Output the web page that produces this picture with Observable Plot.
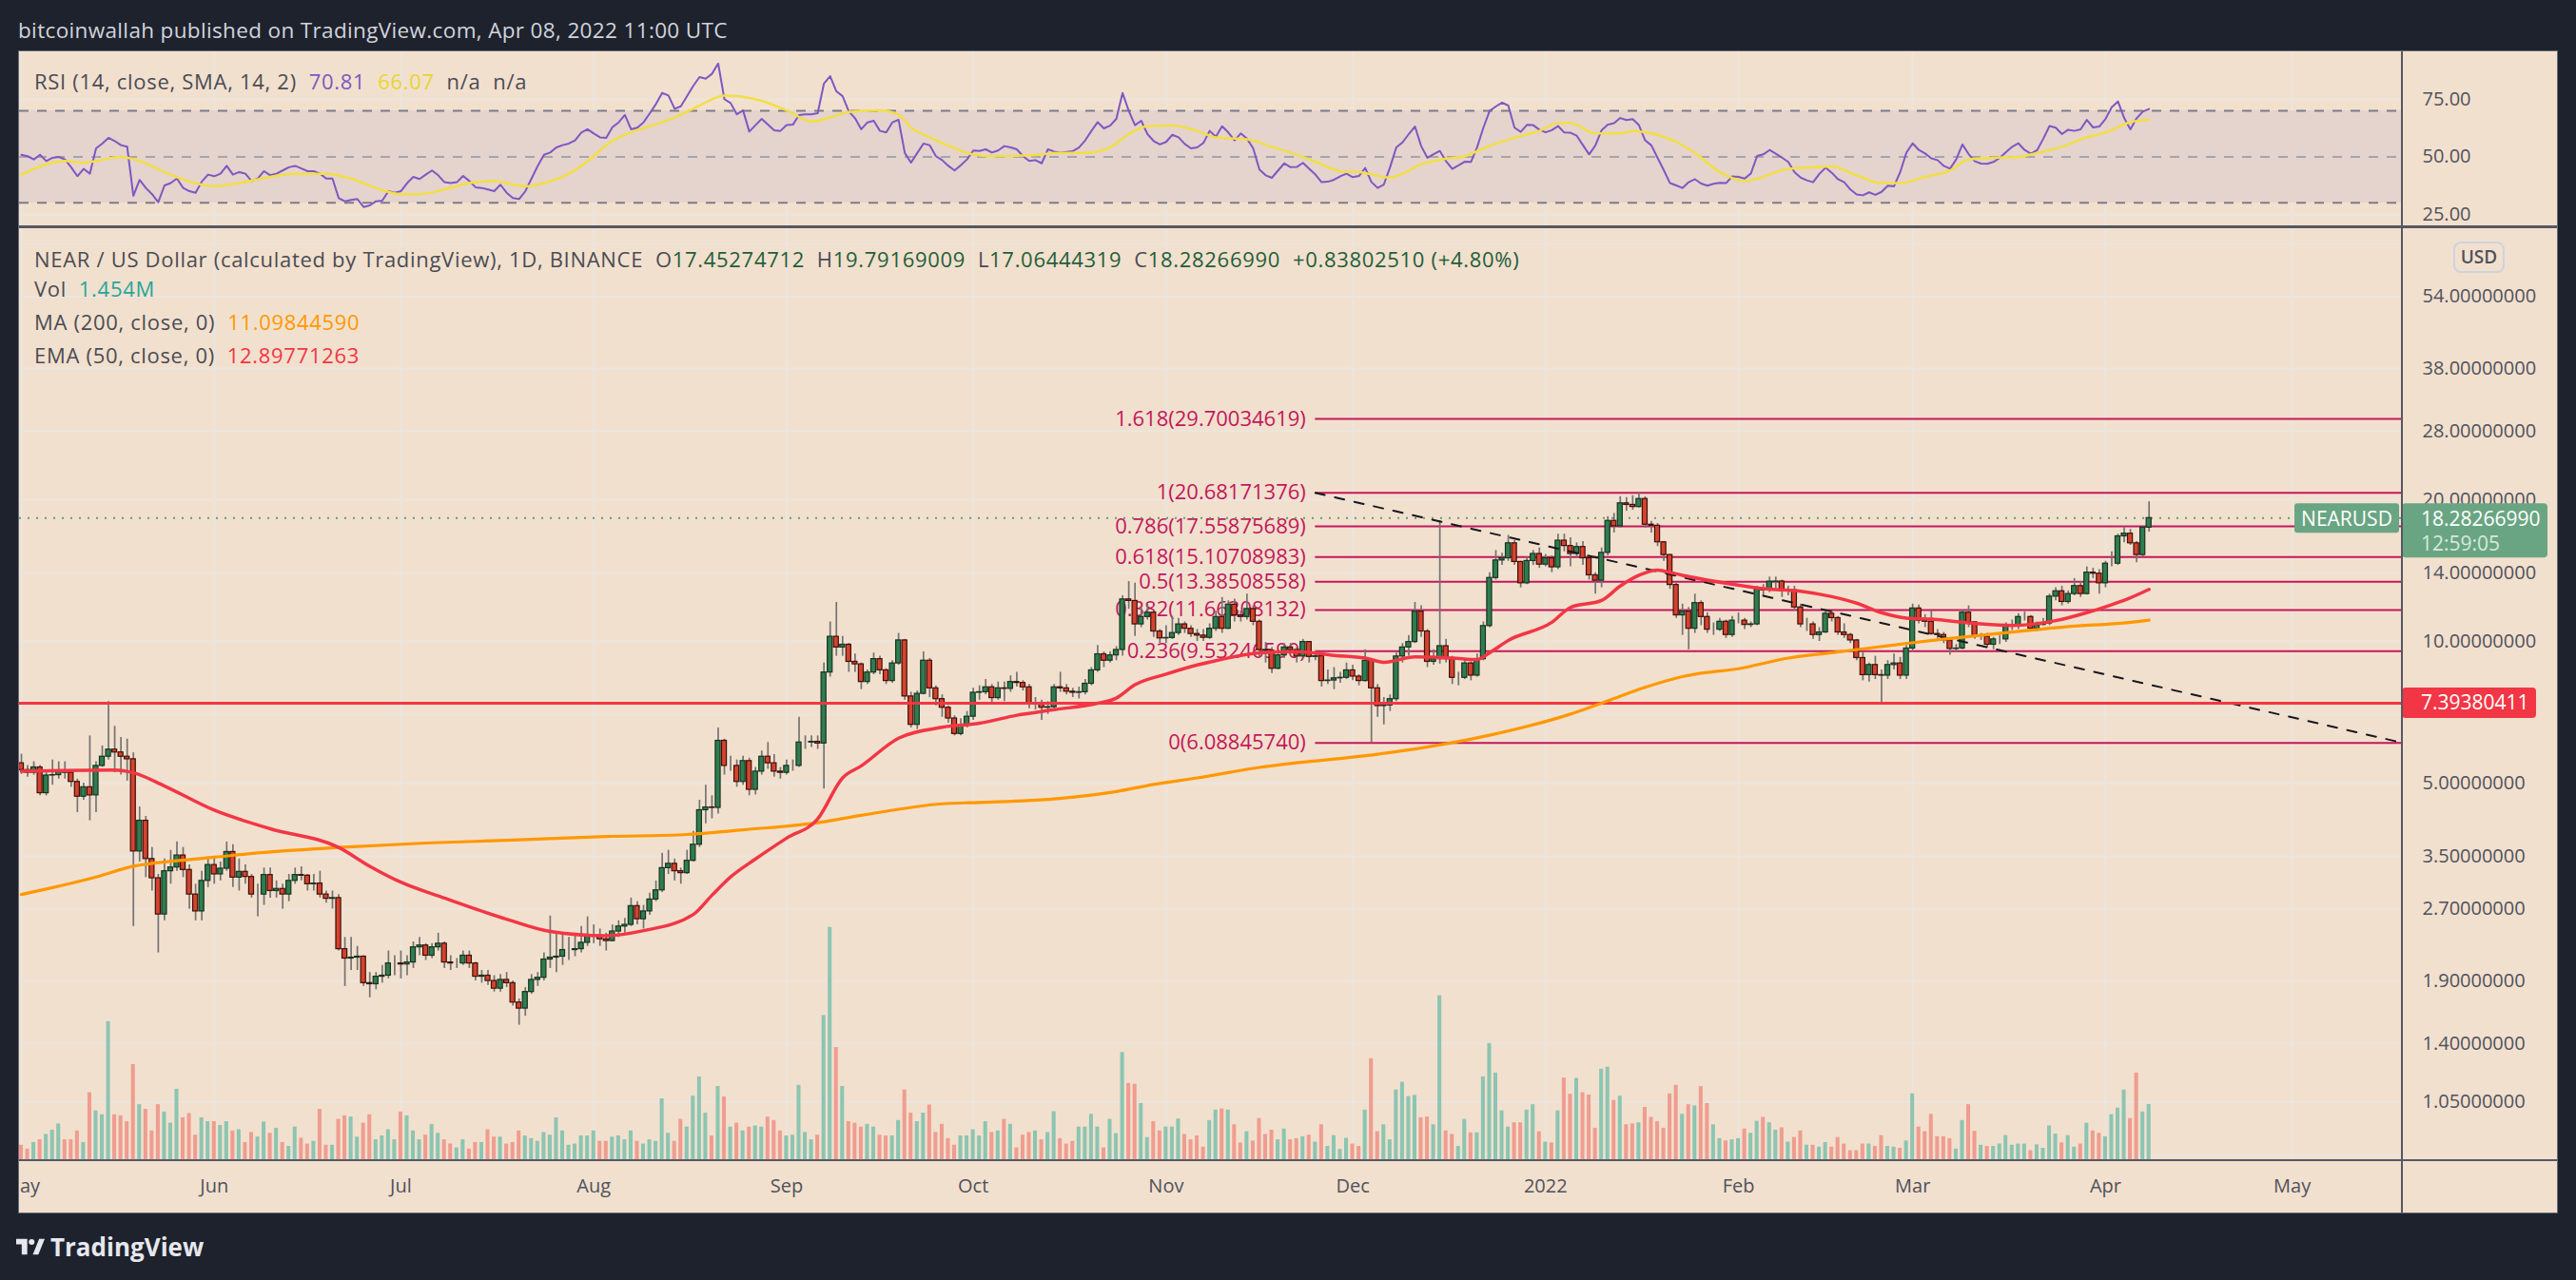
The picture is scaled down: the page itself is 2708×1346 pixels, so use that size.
<!DOCTYPE html>
<html><head><meta charset="utf-8">
<script src="https://cdn.jsdelivr.net/npm/d3@7"></script>
<script src="https://cdn.jsdelivr.net/npm/@observablehq/plot@0.6"></script>
<style>
html,body{margin:0;padding:0;}
body{background:#1e222d;width:2708px;height:1346px;overflow:hidden;position:relative;font-family:"Open Sans","Liberation Sans",Arial,sans-serif;}
.abs{position:absolute;white-space:pre;}
#panel{position:absolute;left:20px;top:54px;width:2668px;height:1221px;background:#f2e0ce;overflow:hidden;}
#panelBorder{position:absolute;left:19px;top:53px;width:2668px;height:1221px;border:1px solid #6a6d78;pointer-events:none;}
.layer{position:absolute;left:0;}
.leg{position:absolute;white-space:pre;font-size:22px;letter-spacing:0.7px;line-height:30px;color:#4a4c54;}
.sep{position:absolute;background:#555862;}
.g{color:#1f5e3a;}
</style></head>
<body>
<div class="abs" id="header" style="left:19px;top:17px;font-size:22.5px;letter-spacing:0.35px;line-height:30px;color:#d1d4dc;">bitcoinwallah published on TradingView.com, Apr 08, 2022 11:00 UTC</div>
<div id="panel">
  <div class="layer" id="rsiLayer" style="top:0;"></div>
  <div class="layer" id="priceLayer" style="top:185px;"></div>
  <div class="layer" id="volLayer" style="top:185px;"></div>
  <div class="sep" style="left:0;top:183px;width:2668px;height:3px;"></div>
  <div class="sep" style="left:2504px;top:0;width:2px;height:1221px;"></div>
  <div class="sep" style="left:0;top:1165px;width:2668px;height:2px;"></div>
  <div class="leg" style="left:16px;top:16px;">RSI (14, close, SMA, 14, 2)  <span style="color:#7e57c2">70.81</span>  <span style="color:#e8d62e">66.07</span>  n/a  n/a</div>
  <div class="leg" style="left:16px;top:203px;">NEAR / US Dollar (calculated by TradingView), 1D, BINANCE  O<span class="g">17.45274712</span>  H<span class="g">19.79169009</span>  L<span class="g">17.06444319</span>  C<span class="g">18.28266990</span>  <span class="g">+0.83802510 (+4.80%)</span></div>
  <div class="leg" style="left:16px;top:234px;">Vol  <span style="color:#26a69a">1.454M</span></div>
  <div class="leg" style="left:16px;top:269px;">MA (200, close, 0)  <span style="color:#ff9800">11.09844590</span></div>
  <div class="leg" style="left:16px;top:304px;">EMA (50, close, 0)  <span style="color:#f23645">12.89771263</span></div>
  <div class="abs" style="left:2559px;top:200px;width:50px;height:29px;border:2px solid #cdd3de;border-radius:8px;font-size:19px;line-height:29px;text-align:center;color:#4f525c;font-weight:600;">USD</div>
</div>
<div id="panelBorder"></div>
<div class="abs" id="footer" style="left:17px;top:1296px;height:30px;display:flex;align-items:center;color:#e6e8ee;font-size:26px;font-weight:700;">
<svg width="30" height="18" viewBox="0 0 36 20" style="margin-right:6px"><path d="M0 0H14V20H7V7H0Z" fill="#e6e8ee"/><circle cx="19.5" cy="4" r="3.6" fill="#e6e8ee"/><path d="M21 20L29 0H36L28 20Z" fill="#e6e8ee"/></svg>TradingView</div>
<script>
// ---------------- DATA ----------------
const startDay = "2021-05-01";          // first daily candle
const firstOpen = 5.51;                  // open of the first candle
// daily closes, May 2021 -> Apr 8 2022
const closes = [
// May 2021
5.33,5.26,5.40,4.76,5.19,5.20,5.29,5.26,5.03,4.68,4.90,4.71,5.44,5.69,5.89,5.81,5.69,5.62,3.58,4.16,3.45,3.14,2.63,3.25,3.31,3.51,3.27,2.90,2.67,3.10,3.35,
// Jun
3.20,3.29,3.57,3.15,3.24,3.16,2.90,2.90,3.19,2.95,2.98,2.90,3.10,3.19,3.18,3.05,3.06,2.90,2.84,2.85,2.22,2.12,2.13,2.14,1.88,1.87,1.94,1.95,2.07,2.07,
// Jul
2.06,2.08,2.24,2.26,2.15,2.24,2.28,2.08,2.07,2.07,2.15,2.07,1.94,1.95,1.90,1.83,1.91,1.88,1.71,1.66,1.80,1.91,1.93,2.11,2.13,2.14,2.21,2.21,2.22,2.29,2.37,
// Aug
2.37,2.33,2.31,2.42,2.48,2.50,2.74,2.57,2.67,2.83,2.96,3.30,3.37,3.25,3.22,3.42,3.70,4.38,4.44,4.43,6.15,5.44,5.44,5.03,5.57,4.84,5.29,5.69,5.51,5.29,5.26,
// Sep
5.44,5.44,6.10,6.10,6.12,6.07,8.59,10.23,9.71,9.84,9.05,8.94,8.20,8.59,9.17,8.68,8.24,8.98,10.05,7.64,6.65,7.74,9.10,7.95,7.54,7.23,6.86,6.36,6.62,6.92,
// Oct
7.78,7.80,7.99,7.58,7.95,7.93,8.20,8.16,7.99,7.35,7.38,7.23,7.25,7.99,7.95,7.82,7.78,7.80,8.13,8.68,9.39,9.10,9.34,9.59,12.28,12.19,10.87,11.27,11.51,10.50,10.15,
// Nov
10.17,10.42,10.87,10.64,10.37,10.29,10.18,10.64,11.27,10.64,11.97,11.36,11.27,11.72,11.01,9.59,9.55,8.75,9.34,9.71,9.59,9.29,9.97,9.27,9.30,8.24,8.26,8.35,8.37,8.68,
// Dec
8.42,8.24,9.10,7.95,7.29,7.31,7.54,9.29,9.71,9.97,11.57,10.50,9.05,9.17,9.77,9.17,8.37,8.37,8.98,8.46,9.17,10.78,13.64,14.86,15.02,16.16,14.75,13.29,14.82,15.34,14.56,
// Jan 2022
15.02,14.37,16.37,15.95,15.34,15.87,15.02,13.82,13.46,15.42,18.03,17.57,19.65,19.50,19.30,20.07,17.70,17.61,16.24,15.26,13.18,11.36,11.57,10.64,12.06,11.27,10.59,10.59,11.01,10.32,11.07,
// Feb
11.07,10.84,10.87,12.94,12.84,13.39,13.40,12.78,12.84,11.81,10.87,10.87,10.32,10.45,11.45,11.21,10.45,10.32,10.05,9.22,8.48,8.91,8.48,8.46,8.91,8.98,8.46,9.66,
// Mar
11.75,11.07,11.01,10.37,10.32,10.05,9.64,9.66,11.51,10.98,10.23,10.23,9.84,10.10,10.10,10.78,10.78,11.27,11.27,10.64,10.84,10.92,12.45,12.78,12.13,12.61,13.11,12.61,14.00,13.93,13.29,
// Apr
14.63,14.63,16.72,16.94,16.16,15.26,17.45,18.28266990
];
const highs = [
5.76,5.45,5.55,5.45,5.30,5.60,5.55,5.55,5.30,5.10,5.00,6.30,5.55,6.00,7.45,6.60,6.25,6.20,5.80,4.45,4.25,3.65,3.20,3.45,3.60,3.75,3.65,3.35,3.05,3.25,3.45,
3.45,3.40,3.75,3.70,3.45,3.35,3.20,3.05,3.30,3.30,3.10,3.05,3.20,3.30,3.32,3.20,3.20,3.25,2.95,2.95,2.90,2.35,2.35,2.25,2.15,1.98,1.98,2.05,2.20,2.15,
2.20,2.15,2.30,2.35,2.28,2.28,2.40,2.30,2.15,2.12,2.20,2.20,2.08,2.00,2.00,1.95,1.96,1.98,1.90,1.74,1.84,1.96,1.98,2.18,2.61,2.40,2.38,2.35,2.40,2.48,2.60,
2.50,2.45,2.40,2.50,2.55,2.58,2.85,2.80,2.75,2.92,3.10,3.55,3.60,3.45,3.30,3.60,3.95,4.60,4.95,4.70,6.55,6.20,5.70,5.60,5.70,5.65,5.40,5.85,6.10,5.75,5.40,
5.60,5.60,6.90,6.30,6.30,6.30,9.00,11.00,12.10,10.25,9.90,9.40,9.00,8.70,9.45,9.30,8.75,9.10,10.40,10.10,7.80,7.85,9.50,9.20,8.05,7.70,7.30,6.95,6.85,7.10,
7.95,8.05,8.30,8.10,8.20,8.20,8.45,8.60,8.25,8.10,7.60,7.50,7.45,8.10,8.60,8.10,7.95,8.00,8.30,8.80,9.80,9.50,9.50,9.75,12.50,13.40,13.30,11.80,12.00,11.60,10.60,
10.80,11.30,11.20,11.00,10.80,10.60,10.60,10.90,11.60,12.40,12.20,12.30,11.60,12.60,11.90,11.10,9.95,9.70,9.50,9.90,9.90,9.70,10.10,10.00,9.55,9.40,8.70,8.80,8.60,9.00,
8.90,8.50,9.60,9.20,8.10,7.60,7.70,9.45,9.90,10.30,12.10,11.90,10.60,9.60,18.03,10.10,9.30,8.60,9.20,9.05,9.40,11.00,14.00,15.60,15.40,16.80,16.40,14.80,15.10,15.60,15.80,
15.30,15.20,16.90,16.90,16.60,16.20,16.30,15.20,14.00,15.80,18.40,18.70,20.30,20.20,20.40,20.68,20.30,18.00,17.80,16.30,15.30,13.30,12.00,11.80,12.60,12.20,11.50,10.95,11.20,11.10,11.30,
11.50,11.20,11.00,13.10,13.20,13.70,13.70,13.50,13.10,13.10,12.00,11.20,11.00,10.70,11.65,11.60,11.30,10.90,10.40,10.10,9.50,9.00,9.30,8.70,9.10,9.40,9.25,9.80,
12.00,11.95,11.40,11.60,10.60,10.45,10.10,9.85,11.65,11.90,11.00,10.40,10.40,10.20,10.30,10.95,11.10,11.45,11.55,11.35,11.00,11.20,12.60,13.00,13.10,12.80,13.60,13.40,14.40,14.30,14.20,
14.80,15.50,16.90,17.50,17.30,16.30,17.50,19.79169009
];
const lows = [
5.22,5.15,5.20,4.70,4.70,4.95,5.10,5.10,4.90,4.33,4.60,4.16,4.33,5.40,5.60,5.26,5.20,5.05,2.48,3.40,3.15,2.95,2.18,2.55,3.05,3.25,3.15,2.70,2.55,2.55,3.00,
3.05,3.10,3.25,3.00,2.95,3.05,2.85,2.60,2.75,2.85,2.85,2.70,2.80,3.05,3.10,2.95,2.95,2.85,2.78,2.70,2.20,1.85,2.00,2.00,1.85,1.75,1.82,1.88,1.92,1.95,
1.92,1.95,2.02,2.15,2.10,2.12,2.20,2.02,2.00,2.02,2.05,2.02,1.90,1.88,1.86,1.80,1.80,1.84,1.68,1.53,1.60,1.78,1.85,1.90,2.02,1.98,2.05,2.10,2.14,2.18,2.25,
2.28,2.25,2.20,2.30,2.35,2.40,2.48,2.50,2.45,2.62,2.80,2.93,3.20,3.10,3.05,3.20,3.40,3.65,4.10,4.20,4.30,5.20,5.30,4.90,4.95,4.70,4.72,5.20,5.35,5.15,5.10,
5.20,5.30,5.40,5.90,5.95,5.90,4.86,8.40,9.30,9.30,8.60,8.60,7.90,8.10,8.50,8.50,8.10,8.15,8.90,7.50,6.55,6.50,7.70,7.60,7.30,6.90,6.70,6.30,6.30,6.55,
6.80,7.50,7.70,7.40,7.50,7.45,7.80,8.00,7.85,7.20,7.15,6.80,7.00,7.20,7.80,7.70,7.60,7.55,7.70,8.05,8.60,8.80,9.00,9.10,9.30,11.70,10.25,10.70,11.10,10.20,9.90,
9.90,10.10,10.30,10.40,10.20,10.00,10.00,10.10,10.50,10.40,10.60,11.00,11.00,11.10,10.80,9.20,9.00,8.55,8.70,9.20,9.40,9.00,9.20,9.00,9.10,8.00,8.10,7.90,8.15,8.30,
8.25,8.05,8.20,6.08845740,6.90,6.65,7.10,7.45,9.00,9.30,9.90,10.20,8.80,8.90,8.95,9.00,8.10,8.05,8.30,8.25,8.40,9.10,10.70,13.50,14.50,14.80,14.50,13.00,13.20,14.50,14.30,
14.40,14.00,14.20,15.50,14.40,15.00,14.50,13.50,12.60,13.00,15.20,17.00,17.40,18.90,19.00,19.20,17.40,17.00,15.90,14.80,12.90,11.20,10.30,9.60,10.40,10.80,10.40,10.30,10.50,10.15,10.20,
10.90,10.60,10.70,10.80,12.50,12.70,12.90,12.40,12.50,11.60,10.70,10.50,10.10,10.00,10.40,11.00,10.30,10.15,9.90,9.10,8.25,8.20,8.30,7.39380411,8.30,8.70,8.30,8.30,
9.50,10.90,10.70,10.30,10.10,9.90,9.35,9.50,9.60,10.70,10.10,10.05,9.70,9.60,9.85,9.95,10.55,10.60,11.05,10.50,10.50,10.80,10.80,12.20,11.90,12.00,12.50,12.40,12.55,13.60,12.60,
13.00,14.40,14.50,16.20,16.00,14.70,15.10,17.06444319
];
// daily volume, millions
const volumes = [
0.40,0.30,0.47,0.54,0.68,0.79,0.95,0.54,0.54,0.77,0.47,1.76,1.29,1.19,3.60,1.19,1.16,1.01,2.49,1.45,1.33,0.77,1.45,1.26,0.97,1.85,1.11,1.22,0.66,1.11,1.01,
1.01,0.91,1.01,0.77,0.80,0.47,0.73,0.61,1.00,0.71,0.84,0.47,0.37,0.87,0.58,0.43,0.50,1.33,0.40,0.40,1.07,1.16,1.13,0.61,0.97,1.19,0.54,0.64,0.80,0.54,
1.26,1.16,0.77,0.54,0.66,0.94,0.71,0.54,0.43,0.33,0.54,0.30,0.47,0.47,0.80,0.61,0.61,0.43,0.47,0.77,0.64,0.57,0.50,0.73,0.66,1.11,0.77,0.40,0.43,0.64,0.64,
0.77,0.50,0.50,0.61,0.64,0.54,0.77,0.50,0.43,0.54,0.50,1.60,0.71,0.50,1.07,0.87,1.67,2.17,1.23,0.64,1.92,1.65,0.87,0.97,0.77,0.87,0.90,0.87,1.13,1.04,0.77,
0.64,0.66,1.95,0.73,0.54,0.66,3.76,6.04,2.93,1.92,1.01,0.97,0.87,0.94,0.87,0.66,0.64,0.64,1.04,1.83,1.23,1.01,1.23,1.44,0.73,0.94,0.57,0.40,0.64,0.64,
0.80,0.64,1.01,0.73,0.77,1.07,0.94,0.33,0.66,0.73,0.77,0.54,0.73,1.27,0.57,0.43,0.50,0.87,0.87,1.20,0.87,0.33,1.07,0.70,2.80,2.00,1.98,1.48,0.60,1.01,0.77,
0.87,0.87,1.08,0.68,0.54,0.64,0.35,1.04,1.31,1.34,1.31,0.93,0.46,0.75,0.51,1.09,0.68,0.79,0.54,0.82,0.54,0.57,0.62,0.66,0.48,0.93,0.37,0.65,0.29,0.58,
0.43,0.37,1.31,2.64,0.75,0.93,0.54,1.83,2.03,1.66,1.69,1.11,1.13,0.93,4.27,0.77,0.68,0.37,1.07,0.72,0.72,2.17,3.03,2.27,1.29,0.87,0.98,0.98,1.31,1.45,0.75,
0.48,0.46,1.29,2.14,1.72,2.13,1.76,1.70,0.84,2.37,2.42,1.56,1.67,0.93,0.95,0.98,1.38,1.12,1.01,0.84,1.73,1.95,1.20,1.45,1.42,1.92,1.48,0.93,0.57,0.51,0.54,
0.57,0.82,0.71,1.02,1.12,0.98,0.79,0.85,0.48,0.60,0.77,0.40,0.40,0.35,0.47,0.35,0.60,0.43,0.26,0.26,0.43,0.43,0.37,0.65,0.37,0.35,0.32,0.51,
1.73,0.87,0.75,1.20,0.62,0.62,0.57,0.30,1.04,1.45,0.76,0.40,0.37,0.37,0.43,0.65,0.40,0.43,0.43,0.26,0.41,0.32,0.90,0.69,0.46,0.65,0.35,0.43,0.97,0.77,0.71,
0.62,1.19,1.36,1.83,1.09,2.27,1.26,1.454
];
// RSI(14), one value per candle
const rsiValues = [
50.9,50.3,48.9,50.9,48.2,49.6,50.0,48.9,45.5,41.6,44.8,42.7,53.7,55.8,58.3,56.9,55.1,54.4,33.1,40.0,
36.5,33.8,30.3,37.6,38.6,40.6,36.5,35.1,34.4,39.3,42.3,41.6,42.7,46.1,42.3,43.4,42.7,39.5,40.6,43.8,
42.0,42.7,44.1,45.5,46.1,45.0,43.8,43.8,42.7,40.6,40.6,32.1,30.7,31.3,31.7,28.2,28.9,30.7,31.0,35.1,
34.4,35.1,38.6,41.3,40.4,42.3,44.1,42.0,39.0,38.6,39.0,41.7,39.5,36.8,36.5,35.8,35.1,37.9,34.4,32.1,
31.7,35.1,40.6,46.1,50.9,51.9,54.1,55.1,55.8,57.2,60.6,62.0,60.2,58.5,58.3,62.9,65.0,68.2,62.0,62.7,
65.0,68.9,73.0,77.8,76.7,70.9,72.0,76.4,80.9,84.7,84.0,86.1,90.6,75.1,73.4,68.5,70.2,61.0,63.8,66.5,
64.0,61.6,61.3,63.8,64.0,68.2,68.5,68.5,69.0,81.9,85.1,78.5,76.4,69.8,66.8,62.0,65.0,65.7,61.3,60.6,
65.0,66.1,51.7,47.5,51.7,55.8,55.1,50.3,48.6,46.1,44.1,46.4,48.9,52.8,52.6,53.3,51.9,52.8,54.7,54.1,
53.3,50.3,48.2,48.6,47.2,53.3,52.3,51.9,52.2,52.5,54.1,57.2,61.3,65.1,62.4,63.6,66.5,77.8,70.0,63.8,
65.7,59.9,56.9,55.4,56.5,59.6,58.5,55.6,53.7,54.1,56.1,61.3,58.8,63.3,60.6,57.2,60.2,57.9,53.7,44.5,
42.0,40.9,44.1,47.2,45.5,45.6,47.4,44.8,42.3,39.0,39.2,40.1,41.6,42.7,41.2,41.7,45.2,39.1,36.5,38.0,
45.5,54.1,56.3,59.9,63.2,54.7,49.6,51.2,52.6,48.1,44.8,46.3,47.9,47.8,54.3,62.7,70.0,71.9,73.6,72.3,
62.7,60.9,63.9,63.8,61.8,60.7,61.6,63.4,60.6,60.5,59.2,55.1,51.1,55.0,61.6,64.0,64.7,66.9,66.0,66.4,
63.8,57.2,55.0,49.6,44.2,38.6,37.6,36.5,39.0,40.3,38.4,37.5,38.3,38.7,38.6,41.5,41.3,40.6,42.8,50.4,
51.1,53.0,51.4,49.7,47.8,43.4,41.0,39.8,39.0,42.6,45.3,43.1,40.3,39.0,35.8,33.7,33.3,34.6,33.5,34.8,
37.5,37.2,43.4,51.9,55.9,53.0,51.5,49.4,48.6,46.1,44.9,48.9,55.4,51.2,48.1,47.1,47.0,47.8,49.6,52.1,
54.4,55.9,53.0,51.4,52.9,57.9,63.4,62.7,59.9,61.8,61.3,62.0,66.1,62.8,63.2,66.5,71.6,74.1,66.9,62.0,
66.8,69.7,70.81
];
// RSI-based SMA (yellow), read at sampled candle numbers
const rsiSmaDay = [0,2,5,7,10,12,16,19,23,27,31,35,40,44,49,53,57,61,64,68,72,76,81,84,88,92,94,97,101,105,109,113,115,119,123,127,130,133,138,141,143,146,150,153,156,162,167,171,175,178,181,185,189,192,197,201,205,209,212,215,220,222,225,229,232,235,240,244,247,249,253,257,259,262,266,269,273,277,279,284,288,291,295,299,302,306,310,313,317,321,324,328,332,335,339,342];
const rsiSmaValue = [42.3,44.8,47.5,48.2,47.5,48.2,50.0,48.2,43.4,39.3,37.2,38.6,41.3,42.7,42.7,40.6,36.5,33.8,33.8,35.8,38.6,39.5,37.2,38.6,42.7,50.3,55.1,59.6,63.3,67.1,72.3,76.7,76.4,74.4,70.2,65.4,67.1,69.5,70.2,68.2,62.7,58.5,53.7,51.0,50.3,50.7,51.7,51.7,54.1,59.9,63.3,63.6,61.3,58.5,57.6,54.4,51.0,46.8,43.7,43.4,41.0,42.7,46.8,49.2,50.3,53.7,58.3,61.3,64.7,64.7,60.2,60.2,61.3,60.2,56.5,51.7,43.4,39.5,40.6,44.8,45.5,45.9,42.0,38.6,38.6,41.3,44.1,48.9,49.6,50.0,51.7,54.4,58.5,60.6,65.1,66.07];
// MA(200) and EMA(50), read at sampled candle numbers
const maDay = [0,5,12,18,25,31,40,51,65,78,94,107,116,128,135,148,154,166,176,182,189,199,218,224,236,249,255,261,267,277,284,291,303,310,320,330,337,342];
const maValue = [2.90,3.00,3.16,3.33,3.42,3.48,3.57,3.65,3.73,3.78,3.85,3.89,3.98,4.12,4.27,4.52,4.55,4.63,4.80,4.97,5.13,5.40,5.76,5.91,6.32,7.01,7.48,7.99,8.42,8.80,9.22,9.46,9.90,10.15,10.47,10.78,10.92,11.0984459];
const emaDay = [0,15,18,23,31,40,51,56,61,68,78,85,94,100,108,111,114,118,123,128,132,135,141,148,154,160,166,173,176,179,184,189,192,199,205,211,216,219,224,230,234,236,239,246,249,254,257,260,263,264,267,274,280,286,291,295,299,303,307,314,320,327,332,336,339,342];
const emaValue = [5.30,5.33,5.26,4.93,4.38,4.00,3.65,3.33,3.08,2.85,2.57,2.42,2.37,2.43,2.63,2.89,3.16,3.45,3.82,4.20,5.13,5.44,6.23,6.57,6.70,6.97,7.16,7.39,7.58,8.09,8.52,8.91,9.10,9.46,9.51,9.34,9.22,9.03,9.27,9.22,9.15,9.46,10.05,10.98,11.81,12.22,13.11,13.82,14.18,14.11,13.82,13.29,12.94,12.78,12.45,12.06,11.51,11.21,11.15,10.92,10.81,11.07,11.51,11.97,12.38,12.89771263];
// Fibonacci retracement drawing
const fibRatios = ["1.618","1","0.786","0.618","0.5","0.382","0.236","0"];
const fibValues = [29.70034619,20.68171376,17.55875689,15.10708983,13.38508558,11.66308132,9.53246590,6.08845740];
const fibStartDay = 208;                       // Nov 25 2021
// dashed trend line (candle number, price)
const trendDay = [208, 383];
const trendPrice = [20.68171376, 6.08];
const supportLevel = 7.39380411;
const lastPrice = 18.28266990;
const countdown = "12:59:05";
const priceTicks = [0.81,1.05,1.4,1.9,2.7,3.5,5,7,10,14,20,28,38,54,70];
const rsiTicks = [25,50,75];
const monthNames = ["Jan","Feb","Mar","Apr","May","Jun","Jul","Aug","Sep","Oct","Nov","Dec"];

// ---------------- BUILD ----------------
const DAY = 864e5;
const T0 = Date.parse(startDay + "T00:00:00Z");
const dayToDate = i => new Date(T0 + i * DAY);
const xDomain = [dayToDate(-0.306), dayToDate(382.72)];
const monthTicks = d3.utcMonths(dayToDate(0), dayToDate(366));
const fmtMonth = d => d.getUTCMonth() === 0 ? String(d.getUTCFullYear()) : monthNames[d.getUTCMonth()];

const candles = closes.map((c, i) => ({
  date: dayToDate(i), open: i ? closes[i - 1] : firstOpen, close: c,
  high: highs[i], low: lows[i], vol: volumes[i]
}));
const rsiData = rsiValues.map((v, i) => ({date: dayToDate(i), value: v}));
const rsiSma = rsiSmaDay.map((d, i) => ({date: dayToDate(d), value: rsiSmaValue[i]}));
const maData = maDay.map((d, i) => ({date: dayToDate(d), value: maValue[i]}));
const emaData = emaDay.map((d, i) => ({date: dayToDate(d), value: emaValue[i]}));
const fibData = fibValues.map((v, i) => ({value: v, label: `${fibRatios[i]}(${v.toFixed(8)})`}));
const fibStart = dayToDate(fibStartDay);
const trendData = trendDay.map((d, i) => ({date: dayToDate(d), price: trendPrice[i]}));

const FONT = '"Open Sans","Liberation Sans",Arial,sans-serif';
const W = 2668, MR = 163;
const GRID = "#ebe5df";
const FIB = "#c2185b";
const UP = "#2f7d50", UPS = "#17331f", DN = "#d3432e", DNS = "#3f0f08";
const isUp = d => d.close >= d.open;
const half = 0.39 * DAY;

const rsiPlot = Plot.plot({
  width: W, height: 185, marginLeft: 0, marginRight: MR, marginTop: 0, marginBottom: 0,
  style: {background: "transparent", fontFamily: FONT, fontSize: "20px", color: "#4f525c", overflow: "hidden"},
  x: {type: "utc", domain: xDomain, axis: null},
  y: {domain: [19.2, 95.66], ticks: rsiTicks, tickFormat: d => d.toFixed(2), axis: "right", tickSize: 0, tickPadding: 21, label: null},
  marks: [
    Plot.ruleX(monthTicks, {stroke: GRID, strokeWidth: 2}),
    Plot.ruleY(rsiTicks, {stroke: GRID, strokeWidth: 2}),
    Plot.rect([0], {x1: () => xDomain[0], x2: () => xDomain[1], y1: () => 30, y2: () => 70, fill: "#e5d3cd"}),
    Plot.ruleY([70, 30], {stroke: "#7b7d88", strokeWidth: 2, strokeDasharray: "10,9"}),
    Plot.ruleY([50], {stroke: "#a4a5ad", strokeWidth: 2, strokeDasharray: "10,9"}),
    Plot.line(rsiData, {x: "date", y: "value", stroke: "#7e57c2", strokeWidth: 2}),
    Plot.line(rsiSma, {x: "date", y: "value", stroke: "#f2df45", strokeWidth: 2.5, curve: "monotone-x"})
  ]
});
document.getElementById("rsiLayer").appendChild(rsiPlot);

const pricePlot = Plot.plot({
  width: W, height: 1036, marginLeft: 0, marginRight: MR, marginTop: 0, marginBottom: 55,
  style: {background: "transparent", fontFamily: FONT, fontSize: "20px", color: "#4f525c", overflow: "hidden"},
  color: {type: "identity"},
  x: {type: "utc", domain: xDomain, ticks: monthTicks, tickFormat: fmtMonth, tickSize: 0, tickPadding: 19, label: null},
  y: {type: "log", domain: [0.789, 75.63], ticks: priceTicks, tickFormat: d => d.toFixed(8), axis: "right", tickSize: 0, tickPadding: 21, label: null},
  marks: [
    Plot.ruleX(monthTicks, {stroke: GRID, strokeWidth: 2}),
    Plot.ruleY(priceTicks, {stroke: GRID, strokeWidth: 2}),
    Plot.ruleY(fibData, {y: "value", x1: () => fibStart, x2: () => xDomain[1], stroke: FIB, strokeWidth: 2}),
    Plot.text(fibData, {x: () => fibStart, y: "value", text: "label", textAnchor: "end", dx: -10, fill: FIB, fontSize: 22}),
    Plot.ruleY([lastPrice], {stroke: "#5f9e78", strokeWidth: 2, strokeDasharray: "2,7"}),
    Plot.ruleX(candles, {x: "date", y1: "low", y2: "high", stroke: "#737373", strokeWidth: 1.7}),
    Plot.rect(candles, {x1: d => new Date(+d.date - half), x2: d => new Date(+d.date + half), y1: "open", y2: "close",
      fill: d => isUp(d) ? UP : DN, stroke: d => isUp(d) ? UPS : DNS, strokeWidth: 1.2}),
    Plot.line(trendData, {x: "date", y: "price", stroke: "#16181d", strokeWidth: 2, strokeDasharray: "10,11", clip: true}),
    Plot.ruleY([supportLevel], {stroke: "#f23645", strokeWidth: 3}),
    Plot.line(maData, {x: "date", y: "value", stroke: "#ff9800", strokeWidth: 3.2, curve: "monotone-x"}),
    Plot.line(emaData, {x: "date", y: "value", stroke: "#f23645", strokeWidth: 3.5, curve: "monotone-x"})
  ]
});
document.getElementById("priceLayer").appendChild(pricePlot);

// price-axis tags positioned with the plot's own y scale
const yDesc = pricePlot.scale("y");
const yS = d3.scaleLog(yDesc.domain, yDesc.range);
const svg = d3.select(pricePlot);
const axX = W - MR;
function tagText(g, x, y, t, col, anchor) {
  g.append("text").attr("x", x).attr("y", y).attr("dy", "0.35em").attr("text-anchor", anchor)
    .attr("fill", col).attr("font-size", 21).attr("font-family", FONT).text(t);
}
{
  const g = svg.append("g");
  const y = yS(supportLevel);
  g.append("rect").attr("x", axX).attr("y", y - 16).attr("width", 141).attr("height", 32).attr("rx", 4).attr("fill", "#f23645");
  tagText(g, axX + 20, y, supportLevel.toFixed(8), "#ffffff", "start");
}
{
  const g = svg.append("g");
  const y = yS(lastPrice);
  g.append("rect").attr("x", axX).attr("y", y - 15).attr("width", 153).attr("height", 57).attr("rx", 4).attr("fill", "#6aa583");
  tagText(g, axX + 20, y + 1, lastPrice.toFixed(8), "#ffffff", "start");
  tagText(g, axX + 20, y + 27, countdown, "#d7e9dd", "start");
  g.append("rect").attr("x", axX - 113).attr("y", y - 15).attr("width", 110).attr("height", 31).attr("rx", 3).attr("fill", "#6aa583");
  tagText(g, axX - 58, y + 1, "NEARUSD", "#ffffff", "middle");
}

const volPlot = Plot.plot({
  width: W, height: 981, marginLeft: 0, marginRight: MR, marginTop: 0, marginBottom: 0,
  style: {background: "transparent", overflow: "hidden"},
  color: {type: "identity"},
  x: {type: "utc", domain: xDomain, axis: null},
  y: {domain: [0, 24.16], axis: null},
  marks: [
    Plot.rect(candles, {x1: d => new Date(+d.date - 0.31 * DAY), x2: d => new Date(+d.date + 0.31 * DAY), y1: () => 0, y2: "vol",
      fill: d => isUp(d) ? "#8cc5b2" : "#ef9d90"})
  ]
});
document.getElementById("volLayer").appendChild(volPlot);
</script>
</body></html>
